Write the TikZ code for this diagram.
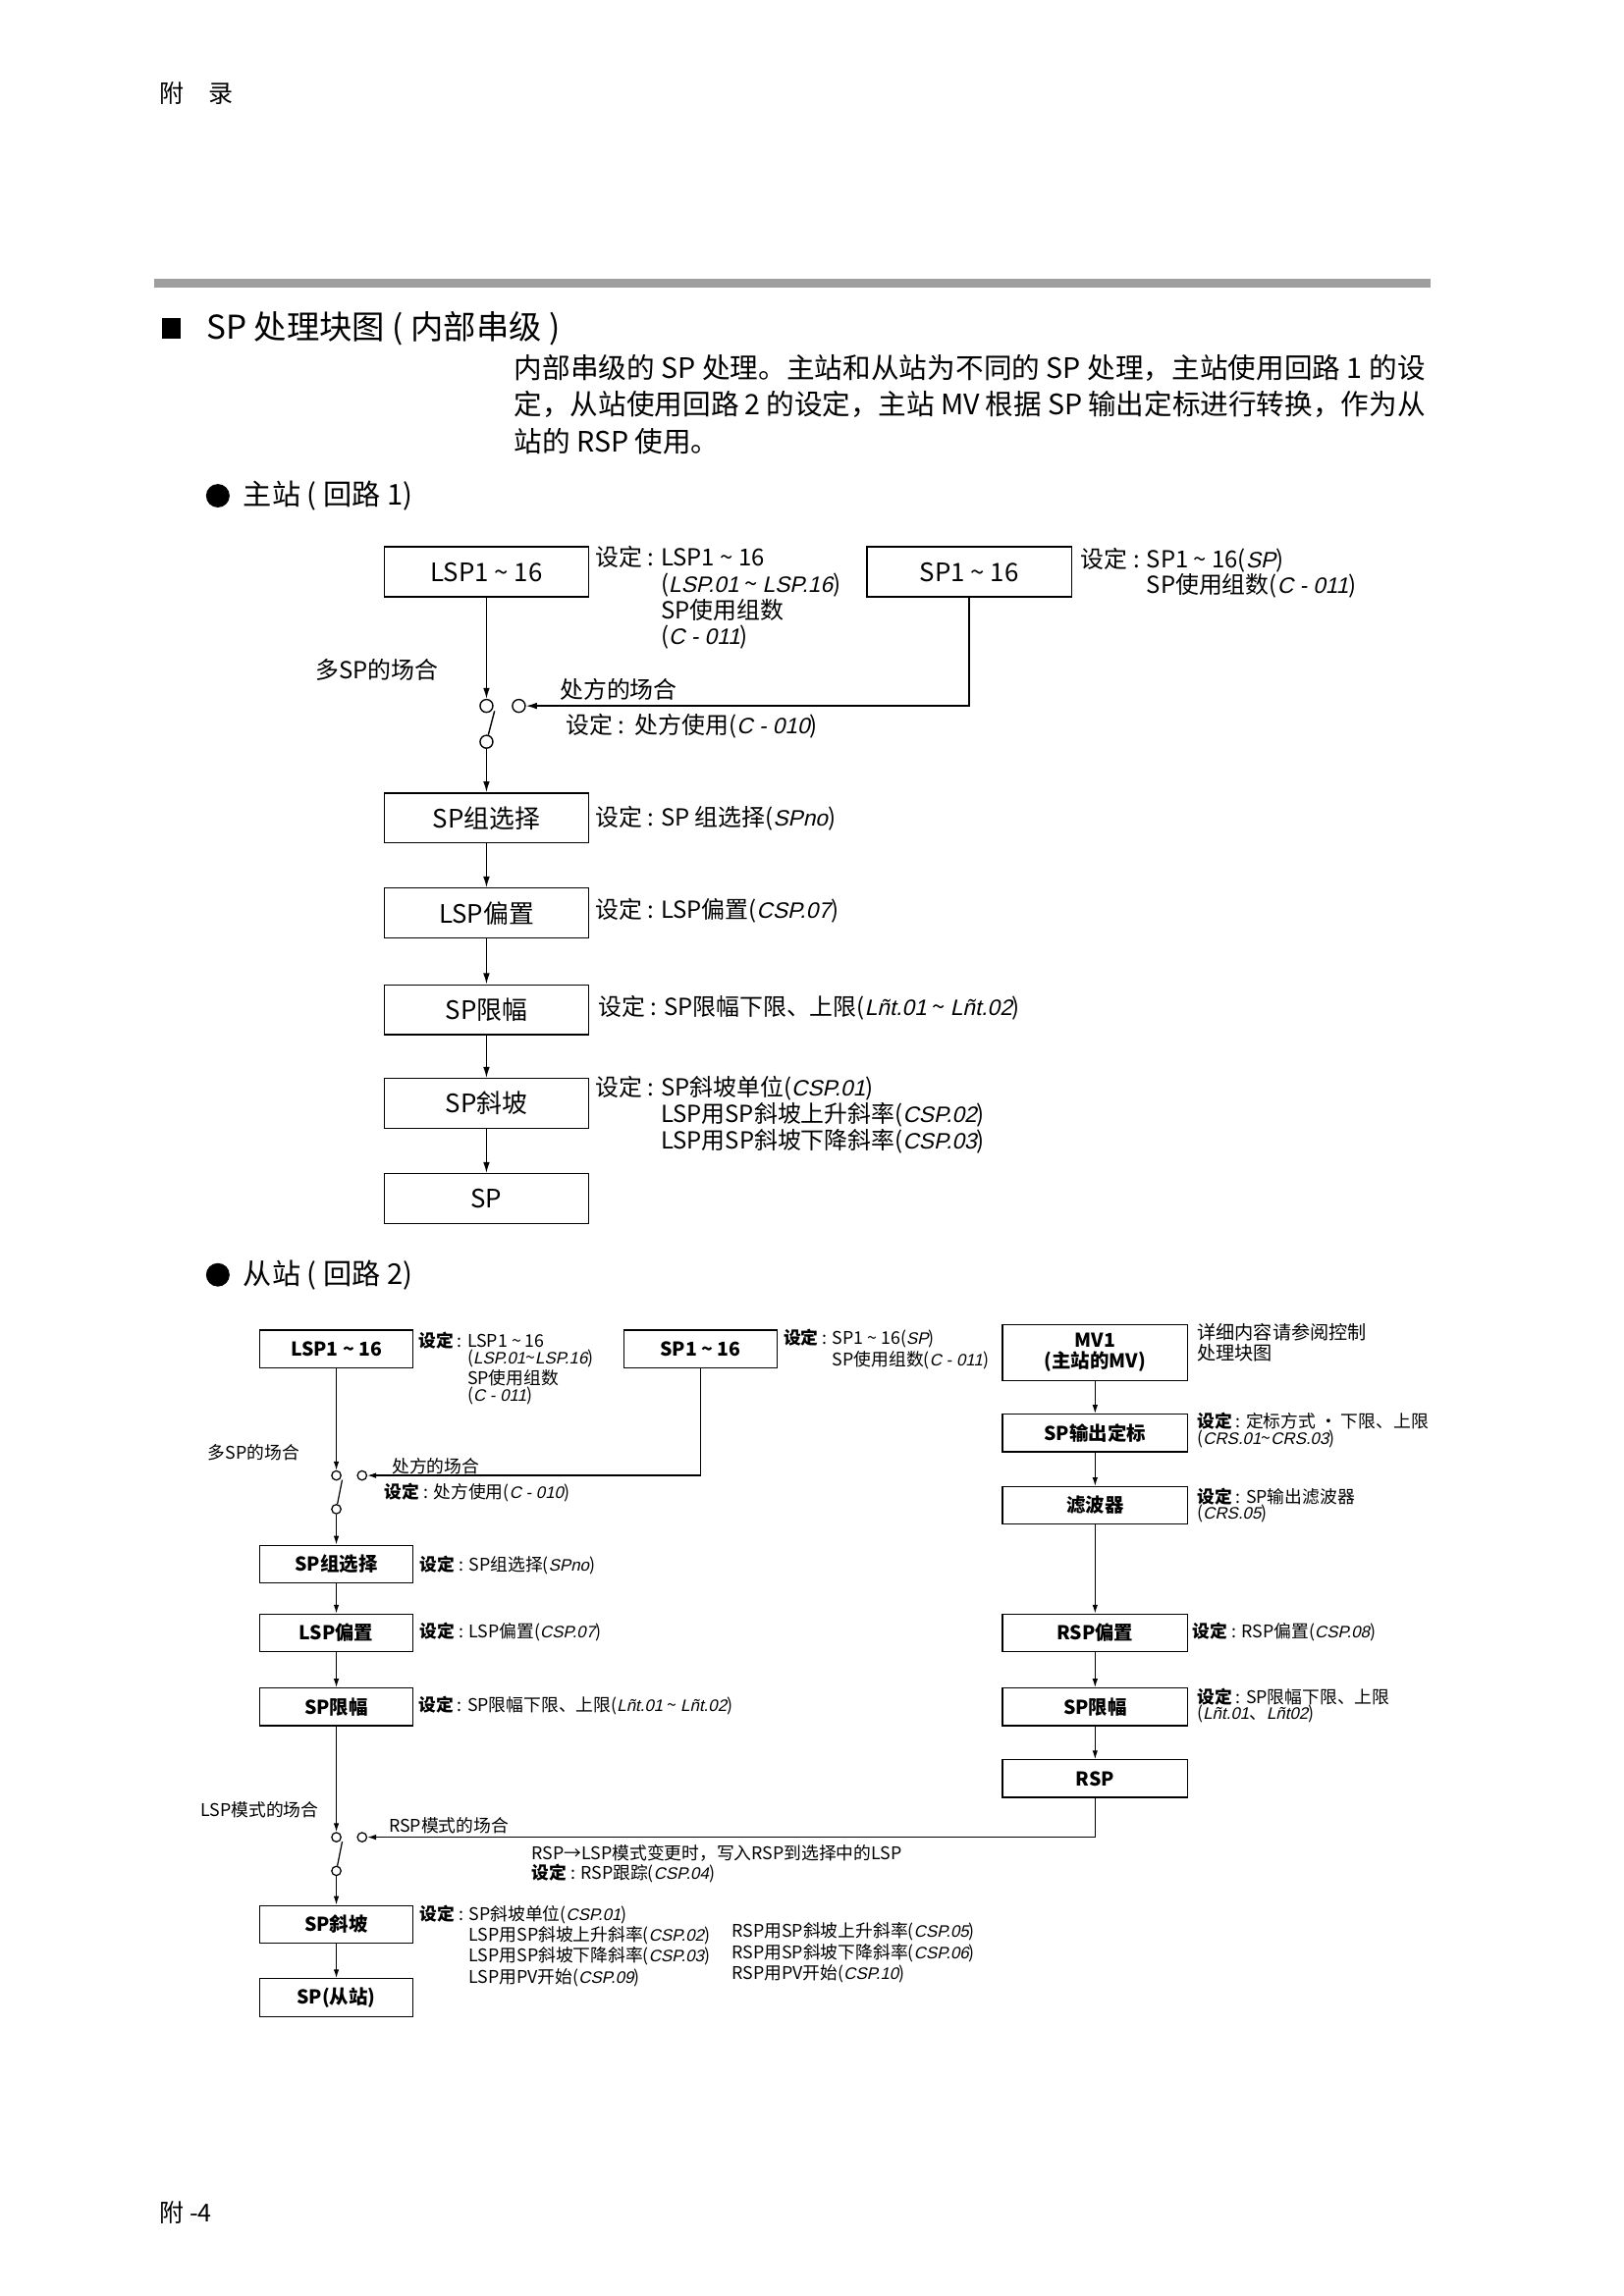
\documentclass[tikz,border=0pt]{standalone}
\usepackage{fontspec}
\usepackage{tikz}
\usetikzlibrary{arrows.meta}
\setmainfont{Noto Sans CJK SC}
\newfontfamily\segfont[FakeSlant=0.22,Scale=0.95]{Liberation Sans}
\newcommand{\seg}[1]{{\segfont #1}}
\newcommand{\tld}{\textasciitilde{}}
\XeTeXlinebreaklocale "zh"
\XeTeXlinebreakskip=0pt plus 1pt

\begin{document}
\begin{tikzpicture}[x=0.5396pt,y=0.537pt,yscale=-1,xscale=1,
  bigbox/.style={draw,line width=0.5pt,minimum width=75pt,minimum height=18.3pt,inner sep=0pt,font=\fontsize{9.3}{11}\selectfont},
  smallbox/.style={draw,line width=0.45pt,minimum width=56pt,minimum height=13.8pt,inner sep=0pt,font=\fontsize{7}{7.6}\selectfont\bfseries},
  rbox/.style={smallbox,minimum width=68pt},
  noteA/.style={anchor=north west,inner sep=0pt,align=left,font=\fontsize{8.6}{9.65}\selectfont},
  lblA/.style={anchor=west,inner sep=0pt,font=\fontsize{8.6}{9.65}\selectfont},
  noteB/.style={anchor=north west,inner sep=0pt,align=left,font=\fontsize{6.4}{5.95}\selectfont},
  lblB/.style={anchor=west,inner sep=0pt,font=\fontsize{6.4}{5.95}\selectfont},
  swA/.style={draw,circle,line width=0.5pt,inner sep=0pt,minimum size=4.7pt},
  swB/.style={draw,circle,line width=0.45pt,inner sep=0pt,minimum size=3.4pt},
  arA/.style={line width=0.5pt,-{Latex[length=4pt,width=2.4pt]}},
  arB/.style={line width=0.45pt,-{Latex[length=3.2pt,width=2pt]}}
]
\useasboundingbox (0,-0.5) rectangle (1103.3,1567.3);

\draw (108,63) node [anchor=west,inner sep=0pt,font=\fontsize{9}{10}\selectfont] (head) {附\hspace{1em}录};
\draw (108,1510) node [anchor=west,inner sep=0pt,font=\fontsize{9}{10}\selectfont] (foot) {附 -4};

\fill[black!38] (105,190) rectangle (972,196);
\fill (110,217) rectangle (123,231);
\draw (140,224) node [anchor=west,inner sep=0pt,font=\fontsize{12}{14}\selectfont] (title) {SP 处理块图 ( 内部串级 )};
\draw (349,241.5) node [anchor=north west,inner sep=0pt,text width=334pt,align=justify,font=\fontsize{10.3}{13.4}\selectfont] (intro) {内部串级的 SP 处理。主站和从站为不同的 SP 处理，主站使用回路 1 的设\linebreak 定，从站使用回路 2 的设定，主站 MV 根据 SP 输出定标进行转换，作为从\linebreak 站的 RSP 使用。};

\fill (148,338) circle (8);
\draw (165,338) node [anchor=west,inner sep=0pt,font=\fontsize{10.5}{12}\selectfont] (masterhd) {主站 ( 回路 1)};

\draw (330.5,390) node [bigbox] (lspA) {LSP1 \tld\ 16};
\draw (658.5,390) node [bigbox] (spA) {SP1 \tld\ 16};
\draw (404,372) node [noteA] (lspAnote) {设定 : LSP1 \tld\ 16\\ \hphantom{设定 : }(\seg{LSP.01} \tld\ \seg{LSP.16})\\ \hphantom{设定 : }SP使用组数\\ \hphantom{设定 : }(\seg{C - 011})};
\draw (734,373) node [noteA] (spAnote) {设定 : SP1 \tld\ 16(\seg{SP})\\ \hphantom{设定 : }SP使用组数(\seg{C - 011})};

\draw (214,457) node [lblA] (multiA) {多SP的场合};
\draw (380,470) node [lblA] (recipeA) {处方的场合};
\draw (384,495) node [lblA] (recipeAnote) {设定 :\ \ 处方使用(\seg{C - 010})};

\draw (330.5,481.5) node [swA] (swA1) {};
\draw (352.5,481.5) node [swA] (swA2) {};
\draw (330.5,506) node [swA] (swA3) {};
\coordinate (levA) at (336,485);

\draw (330.5,558) node [bigbox] (grpA) {SP组选择};
\draw (330.5,623) node [bigbox] (biasA) {LSP偏置};
\draw (330.5,689) node [bigbox] (limA) {SP限幅};
\draw (330.5,753) node [bigbox] (rampA) {SP斜坡};
\draw (330.5,818) node [bigbox] (outA) {SP};

\draw (404,558) node [lblA] (grpAnote) {设定 : SP 组选择(\seg{SPno})};
\draw (404,621) node [lblA] (biasAnote) {设定 : LSP偏置(\seg{CSP.07})};
\draw (406,688) node [lblA] (limAnote) {设定 : SP限幅下限、上限(\seg{Lñt.01} \tld\ \seg{Lñt.02})};
\draw (404,734) node [noteA] (rampAnote) {设定 : SP斜坡单位(\seg{CSP.01})\\ \hphantom{设定 : }LSP用SP斜坡上升斜率(\seg{CSP.02})\\ \hphantom{设定 : }LSP用SP斜坡下降斜率(\seg{CSP.03})};

\draw[arA] (lspA) -- (swA1);
\draw[arA] (spA) |- (swA2);
\draw[line width=0.5pt] (swA3) -- (levA);
\draw[arA] (swA3) -- (grpA);
\draw[arA] (grpA) -- (biasA);
\draw[arA] (biasA) -- (limA);
\draw[arA] (limA) -- (rampA);
\draw[arA] (rampA) -- (outA);

\fill (148,870) circle (8);
\draw (165,870) node [anchor=west,inner sep=0pt,font=\fontsize{10.5}{12}\selectfont] (slavehd) {从站 ( 回路 2)};

\draw (228.5,920.5) node [smallbox] (lspB) {LSP1 \tld\ 16};
\draw (476,920.5) node [smallbox] (spB) {SP1 \tld\ 16};
\draw (744,923) node [rbox,minimum height=20.4pt,align=center] (mvB) {MV1\\(主站的MV)};
\draw (744,978) node [rbox] (sclB) {SP输出定标};
\draw (744,1027.5) node [rbox] (filB) {滤波器};
\draw (744,1114.5) node [rbox] (rbiasB) {RSP偏置};
\draw (744,1165) node [rbox] (rlimB) {SP限幅};
\draw (744,1214) node [rbox] (rspB) {RSP};

\draw (284,909) node [noteB] (lspBnote) {\textbf{设定} : LSP1 \tld\ 16\\ \hphantom{设定 : }(\seg{LSP.01}\tld\seg{LSP.16})\\ \hphantom{设定 : }SP使用组数\\ \hphantom{设定 : }(\seg{C - 011})};
\draw (532,907) node [noteB] (spBnote) {\textbf{设定} : SP1 \tld\ 16(\seg{SP})\\ \hphantom{设定 : }SP使用组数(\seg{C - 011})};
\draw (813,903) node [anchor=north west,inner sep=0pt,align=left,font=\fontsize{6.9}{7.5}\selectfont] (mvBnote) {详细内容请参阅控制\\处理块图};
\draw (813,964) node [noteB] (sclBnote) {\textbf{设定} : 定标方式 · 下限、上限\\(\seg{CRS.01}\tld\seg{CRS.03})};
\draw (813,1015) node [noteB] (filBnote) {\textbf{设定} : SP输出滤波器\\(\seg{CRS.05})};
\draw (810,1114) node [lblB] (rbiasBnote) {\textbf{设定} : RSP偏置(\seg{CSP.08})};
\draw (813,1152) node [noteB] (rlimBnote) {\textbf{设定} : SP限幅下限、上限\\(\seg{Lñt.01}、\seg{Lñt02})};

\draw (141,991) node [lblB] (multiB) {多SP的场合};
\draw (266,1001) node [lblB] (recipeB) {处方的场合};
\draw (261,1019) node [lblB] (recipeBnote) {\textbf{设定} : 处方使用(\seg{C - 010})};

\draw (228.5,1007) node [swB] (swB1) {};
\draw (246,1007) node [swB] (swB2) {};
\draw (228.5,1030) node [swB] (swB3) {};
\coordinate (levB) at (232.5,1010);

\draw (228.5,1067.5) node [smallbox] (grpB) {SP组选择};
\draw (228.5,1114.5) node [smallbox] (biasB) {LSP偏置};
\draw (228.5,1165) node [smallbox] (limB) {SP限幅};
\draw (228.5,1313.5) node [smallbox] (rampB) {SP斜坡};
\draw (228.5,1363.5) node [smallbox] (outB) {SP(从站)};

\draw (285,1068) node [lblB] (grpBnote) {\textbf{设定} : SP组选择(\seg{SPno})};
\draw (285,1114) node [lblB] (biasBnote) {\textbf{设定} : LSP偏置(\seg{CSP.07})};
\draw (284,1164) node [lblB] (limBnote) {\textbf{设定} : SP限幅下限、上限(\seg{Lñt.01} \tld\ \seg{Lñt.02})};

\draw (136,1235) node [lblB] (lspmode) {LSP模式的场合};
\draw (264,1246) node [lblB] (rspmode) {RSP模式的场合};
\draw (228.5,1254) node [swB] (swC1) {};
\draw (246,1254) node [swB] (swC2) {};
\draw (228.5,1277) node [swB] (swC3) {};
\coordinate (levC) at (232.5,1257);
\draw (361,1259) node [noteB] (trackBnote) {RSP→LSP模式变更时，写入RSP到选择中的LSP\\\textbf{设定} : RSP跟踪(\seg{CSP.04})};

\draw (285,1300) node [noteB] (rampBnote) {\textbf{设定} : SP斜坡单位(\seg{CSP.01})\\ \hphantom{设定 : }LSP用SP斜坡上升斜率(\seg{CSP.02})\\ \hphantom{设定 : }LSP用SP斜坡下降斜率(\seg{CSP.03})\\ \hphantom{设定 : }LSP用PV开始(\seg{CSP.09})};
\draw (497,1312) node [noteB] (rampBnote2) {RSP用SP斜坡上升斜率(\seg{CSP.05})\\RSP用SP斜坡下降斜率(\seg{CSP.06})\\RSP用PV开始(\seg{CSP.10})};

\draw[arB] (lspB) -- (swB1);
\draw[arB] (spB) |- (swB2);
\draw[line width=0.45pt] (swB3) -- (levB);
\draw[arB] (swB3) -- (grpB);
\draw[arB] (grpB) -- (biasB);
\draw[arB] (biasB) -- (limB);
\draw[arB] (limB) -- (swC1);
\draw[arB] (rspB) |- (swC2);
\draw[line width=0.45pt] (swC3) -- (levC);
\draw[arB] (swC3) -- (rampB);
\draw[arB] (rampB) -- (outB);

\draw[arB] (mvB) -- (sclB);
\draw[arB] (sclB) -- (filB);
\draw[arB] (filB) -- (rbiasB);
\draw[arB] (rbiasB) -- (rlimB);
\draw[arB] (rlimB) -- (rspB);
\end{tikzpicture}
\end{document}
